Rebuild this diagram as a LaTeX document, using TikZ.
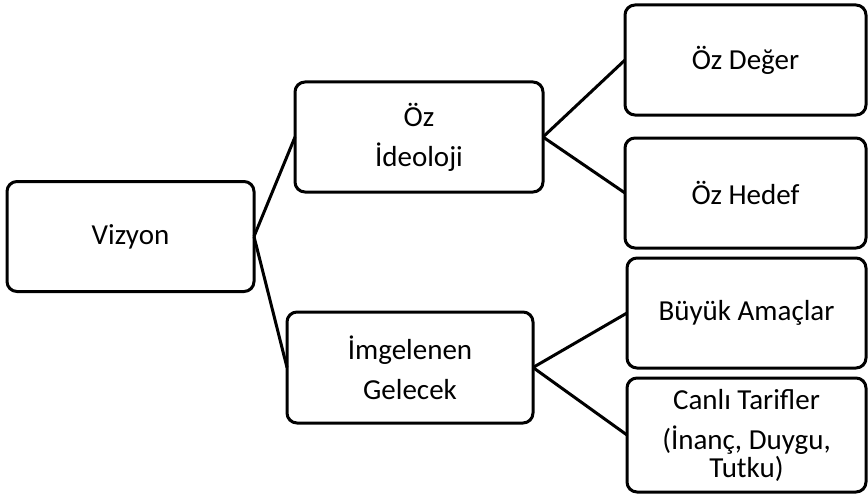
\documentclass[tikz,border=0pt]{standalone}
\usepackage{fontspec}
\setmainfont{Carlito}
\usepackage{tikz}

\begin{document}
\begin{tikzpicture}[x=1pt,y=-1pt,
  every node/.style={draw=black, line width=3pt, rounded corners=10pt, align=center,
    font=\fontsize{29}{28}\selectfont, outer sep=0pt},
  link/.style={line width=3pt}]
\useasboundingbox (0,0) rectangle (868,495);

\node[minimum width=247pt, minimum height=110pt] (vizyon) at (130.5,236.5) {Vizyon};
\node[minimum width=248pt, minimum height=110pt] (ideoloji) at (419,137) {Öz\\[12pt]İdeoloji};
\node[minimum width=246pt, minimum height=111pt] (gelecek) at (410,367.5) {İmgelenen\\[12pt]Gelecek};

\node[minimum width=241pt, minimum height=110pt] (deger) at (745.5,60) {Öz Değer};
\node[minimum width=241pt, minimum height=110pt] (hedef) at (745.5,193) {Öz Hedef};
\node[minimum width=239pt, minimum height=110pt] (amaclar) at (746.5,313) {Büyük Amaçlar};
\node[minimum width=239pt, minimum height=114pt] (tarifler) at (746.5,435) {Canlı Tarifler\\[12pt](İnanç, Duygu,\\Tutku)};

\draw[link] (vizyon.east) -- (ideoloji.west);
\draw[link] (vizyon.east) -- (gelecek.west);
\draw[link] (ideoloji.east) -- (deger.west);
\draw[link] (ideoloji.east) -- (hedef.west);
\draw[link] (gelecek.east) -- (amaclar.west);
\draw[link] (gelecek.east) -- (tarifler.west);
\end{tikzpicture}
\end{document}
